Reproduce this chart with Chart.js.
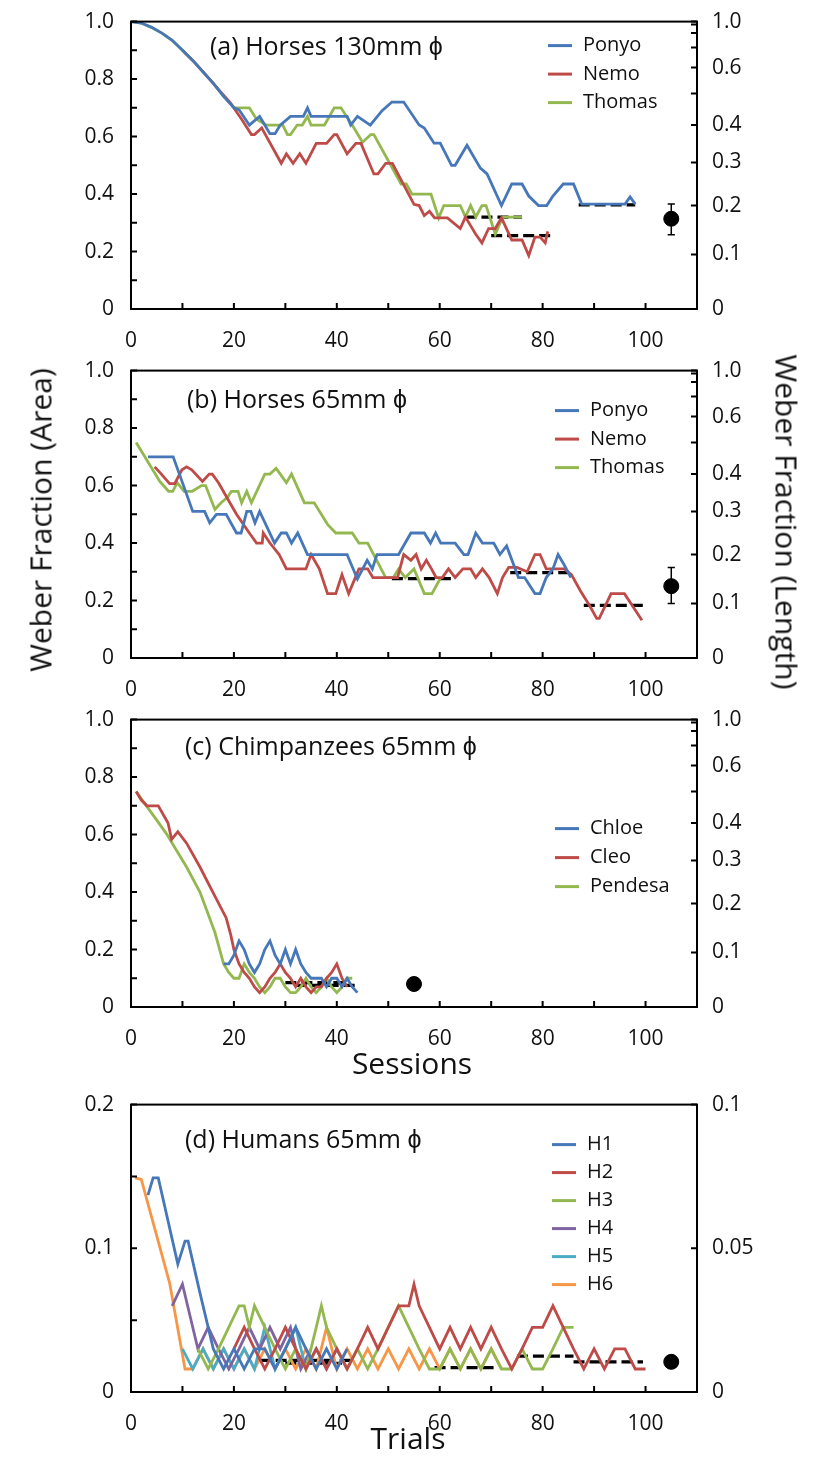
<!DOCTYPE html>
<html lang="en">
<head>
<meta charset="UTF-8"/>
<title>Weber Fraction - Horses, Chimpanzees, Humans</title>
<script src="https://cdn.jsdelivr.net/npm/chart.js@4"></script>
<style>
  body {
    margin: 0;
    background: #fff;
    width: 824px;
    height: 1459px;
    position: relative;
    overflow: hidden;
    font-family: 'Open Sans', sans-serif;
    color: #111;
  }
  canvas { position: absolute; left: 0; }
  .big {
    position: absolute;
    font-size: 30px;
    white-space: nowrap;
    transform: translate(-50%, -50%);
  }
  .rot-left { transform: translate(-50%, -50%) rotate(-90deg); }
  .rot-right { transform: translate(-50%, -50%) rotate(90deg); }
</style>
</head>
<body>

<canvas id="chartA" width="824" height="350" style="top:0px"></canvas>
<canvas id="chartB" width="824" height="350" style="top:349px"></canvas>
<canvas id="chartC" width="824" height="350" style="top:698px"></canvas>
<canvas id="chartD" width="824" height="350" style="top:1083px"></canvas>

<div class="big rot-left" style="left:40px; top:520px">Weber Fraction (Area)</div>
<div class="big rot-right" style="left:787px; top:522px">Weber Fraction (Length)</div>
<div class="big" style="left:412px; top:1062px">Sessions</div>
<div class="big" style="left:408px; top:1437px">Trials</div>

<script>
  // ---- colours
  const BLUE = "#4677b8", RED = "#be4b48", GREEN = "#93b84f";
  const PURPLE = "#8064a2", AQUA = "#4bacc6", ORANGE = "#f79646";

  // ---- panel (a) Horses 130mm
  const aPonyoX = [0,2,4,6,8,10,12,14,16,18,20,21,23,25,27,28,29,31,33.5,34.3,35,42,42.7,44,46.5,48.8,50.7,53,56,57,58.9,60.1,62.3,63,65.3,67.9,69.2,72,74,76,77.3,79.2,80.8,82,84,86,87.6,96,97,98];
  const aPonyoY = [1.0,0.995,0.98,0.96,0.935,0.9,0.865,0.825,0.785,0.74,0.70,0.693,0.64,0.67,0.61,0.61,0.64,0.67,0.67,0.70,0.67,0.67,0.64,0.67,0.64,0.69,0.72,0.72,0.64,0.63,0.577,0.577,0.50,0.50,0.57,0.49,0.47,0.36,0.435,0.435,0.393,0.36,0.36,0.393,0.435,0.435,0.365,0.365,0.39,0.365];
  const aNemoX = [10,12,14,16,17.2,19.2,21.5,23.4,24,25.4,29.2,30.2,31.5,32.8,34,36,38,39.5,40,42,43.7,44.7,47.2,48,49.5,50.8,55,56,57,58,59,61.5,64,65,66,67,68.2,69.5,70.8,72,74,76,77.3,78.5,79.5,80.5,81];
  const aNemoY = [0.9,0.865,0.825,0.785,0.76,0.72,0.66,0.607,0.607,0.63,0.507,0.54,0.507,0.54,0.507,0.576,0.576,0.607,0.607,0.54,0.576,0.576,0.47,0.47,0.507,0.507,0.364,0.36,0.325,0.34,0.317,0.317,0.28,0.32,0.29,0.26,0.23,0.28,0.28,0.317,0.24,0.24,0.186,0.25,0.25,0.23,0.27];
  const aThomasX = [0,2,4,6,8,10,12,14,16,18,20.1,23,24.4,26.3,29.5,30.4,31,32.3,33.3,34.3,35,37.6,39.5,40.8,43,45,46.6,47.2,52.5,53.5,54.6,58.3,59.8,60.8,64,65,66,67,68.2,69,70.8,71.5,72.3,75,76];
  const aThomasY = [1.0,0.995,0.98,0.96,0.935,0.9,0.865,0.825,0.785,0.74,0.70,0.70,0.66,0.64,0.64,0.607,0.607,0.64,0.64,0.67,0.64,0.64,0.70,0.70,0.64,0.58,0.607,0.607,0.435,0.435,0.40,0.40,0.317,0.36,0.36,0.32,0.36,0.32,0.36,0.36,0.26,0.29,0.32,0.32,0.32];
  const aDashFrom = [65, 70, 87];
  const aDashTo = [76, 81.5, 98];
  const aDashY = [0.32, 0.255, 0.362];
  const aDot = [105, 0.314], aErr = [0.258, 0.365];

  // ---- panel (b) Horses 65mm
  const bPonyoX = [3.3,8.2,12,14.3,15.3,16.6,18.5,20.5,21.4,22.5,23.3,24.1,25,27.9,29.2,30.2,31.2,32.4,34.3,42,44,45.9,46.9,47.8,52,54.4,57,58.2,59.2,60.2,63,64.7,65.5,67,68.3,70.5,71.7,73,75.3,76.5,78.5,79.5,80.7,82,83,84,85.5];
  const bPonyoY = [0.70,0.70,0.51,0.51,0.47,0.50,0.50,0.435,0.435,0.51,0.51,0.47,0.51,0.40,0.435,0.435,0.40,0.435,0.36,0.36,0.275,0.34,0.31,0.36,0.36,0.435,0.435,0.40,0.435,0.40,0.40,0.36,0.36,0.435,0.40,0.40,0.36,0.39,0.28,0.28,0.224,0.224,0.28,0.31,0.36,0.33,0.28];
  const bNemoX = [4.6,5.9,7.5,8.5,9.9,10.8,11.8,13.9,15.2,15.8,17,20.5,23,24.4,25.5,25.7,27,28.8,30.2,34,35,36.6,38.2,39.8,41,42.3,44.3,46,47,51.8,53,54.4,55.4,56.4,57.4,58.4,59.3,60.5,61.7,63,64.5,66,67,68.3,69.6,71.2,72.2,73.4,75,77,78.5,79.5,80.7,82.6,84.2,85.6,87.3,89.2,90.5,91,93.3,95.9,97.5,99.3];
  const bNemoY = [0.665,0.64,0.607,0.607,0.655,0.665,0.655,0.614,0.64,0.64,0.61,0.50,0.435,0.40,0.40,0.435,0.40,0.36,0.31,0.31,0.36,0.31,0.224,0.224,0.29,0.224,0.31,0.31,0.28,0.28,0.36,0.34,0.36,0.31,0.34,0.31,0.28,0.28,0.31,0.28,0.31,0.31,0.28,0.31,0.28,0.224,0.28,0.315,0.315,0.30,0.36,0.36,0.31,0.31,0.31,0.29,0.235,0.18,0.138,0.138,0.224,0.224,0.18,0.131];
  const bThomasX = [1,5.6,7.3,8.1,9,10.3,11.9,13.7,14.5,16.3,17.5,18.8,19.5,20.8,21.5,22.5,23.4,26,27,28.2,30.2,31.2,33.7,35.6,38.2,39.8,43,44.3,46,49.5,51,52,53.3,55,57,58.5,60.2];
  const bThomasY = [0.75,0.614,0.58,0.58,0.61,0.58,0.58,0.60,0.60,0.517,0.54,0.56,0.58,0.58,0.54,0.58,0.54,0.64,0.64,0.66,0.61,0.64,0.54,0.54,0.465,0.435,0.435,0.40,0.40,0.28,0.28,0.31,0.28,0.31,0.224,0.224,0.28];
  const bDashFrom = [50.7, 73.7, 88];
  const bDashTo = [62.3, 85.4, 99.5];
  const bDashY = [0.276, 0.297, 0.183];
  const bDot = [105, 0.25], bErr = [0.19, 0.315];

  // ---- panel (c) Chimpanzees 65mm
  const cChloeX = [18,19,20,21,22,23,24,25,26,27,28,29,30,31,32,33,34,35,36,37,38,39,40,41,42,43,44];
  const cChloeY = [0.15,0.15,0.18,0.23,0.2,0.15,0.12,0.15,0.2,0.23,0.18,0.15,0.2,0.15,0.2,0.15,0.12,0.1,0.1,0.1,0.07,0.1,0.1,0.07,0.1,0.07,0.05];
  const cCleoX = [1,2,3.1,5.3,7.2,7.9,9.1,10.8,13.4,15.9,18.5,19.4,20,21,22,23,24,25,26,27,28,29,30,31,32,33,34,35,36,37,38,39,40,41,42];
  const cCleoY = [0.75,0.72,0.70,0.70,0.64,0.583,0.61,0.57,0.487,0.40,0.31,0.25,0.2,0.15,0.12,0.1,0.07,0.05,0.07,0.1,0.12,0.15,0.12,0.1,0.07,0.1,0.07,0.05,0.07,0.07,0.1,0.12,0.15,0.1,0.07];
  const cPendesaX = [1,3,5,7,9,10.8,13.4,16.3,18,19,20,21,22,23,24,25,26,27,28,29,30,31,32,33,34,35,36,37,38,39,40,41,42,43];
  const cPendesaY = [0.75,0.70,0.65,0.60,0.54,0.487,0.40,0.26,0.15,0.12,0.1,0.1,0.15,0.12,0.1,0.07,0.05,0.07,0.1,0.1,0.07,0.05,0.05,0.07,0.1,0.07,0.05,0.07,0.1,0.07,0.05,0.07,0.1,0.1];
  const cDashFrom = [30, 32];
  const cDashTo = [42, 44.3];
  const cDashY = [0.085, 0.075];
  const cDot = [55, 0.08];

  // ---- panel (d) Humans 65mm
  const dH1X = [3.3,4.3,5.3,9.1,10.5,11.1,13.4,15,16,18,20,22,24,26,28,30,32,34,36,38,40,42];
  const dH1Y = [0.137,0.149,0.149,0.089,0.105,0.105,0.069,0.045,0.03,0.016,0.03,0.016,0.03,0.03,0.016,0.03,0.045,0.03,0.016,0.03,0.016,0.03];
  const dH2X = [20,22,24,26,28,30,32,34,36,38,40,42,44,46,48,50,52,54,55,56,58,60,62,64,66,68,70,72,74,76,78,80,82,84,86,88,90,92,94,96,98,100];
  const dH2Y = [0.03,0.045,0.03,0.016,0.03,0.045,0.03,0.016,0.03,0.016,0.03,0.016,0.03,0.045,0.03,0.045,0.06,0.06,0.075,0.06,0.045,0.03,0.045,0.03,0.045,0.03,0.045,0.03,0.016,0.03,0.045,0.045,0.06,0.045,0.03,0.016,0.03,0.016,0.03,0.03,0.016,0.016];
  const dH3X = [13,15,17,19,21,22,23,24,26,28,30,32,34,36,37,38,40,42,44,46,48,50,52,54,56,58,60,62,64,66,68,70,72,74,76,78,80,82,84,86];
  const dH3Y = [0.03,0.016,0.03,0.045,0.06,0.06,0.045,0.06,0.045,0.03,0.016,0.03,0.016,0.045,0.06,0.045,0.03,0.016,0.03,0.016,0.03,0.045,0.06,0.045,0.03,0.016,0.016,0.03,0.016,0.03,0.016,0.03,0.016,0.016,0.03,0.016,0.016,0.03,0.045,0.045];
  const dH4X = [8,10,11,13,15,17,19,21,23,25,27,29,31,33,35];
  const dH4Y = [0.06,0.075,0.06,0.03,0.045,0.03,0.016,0.03,0.045,0.03,0.045,0.03,0.045,0.016,0.03];
  const dH5X = [10,12,14,16,18,20,22,24,26,28,30,32,34,36,38,40,42];
  const dH5Y = [0.03,0.016,0.03,0.016,0.03,0.016,0.03,0.016,0.045,0.016,0.03,0.045,0.016,0.03,0.016,0.03,0.016];
  const dH6X = [0.8,2,7.5,10.5,12,14,16,18,20,22,24,26,28,30,32,34,36,38,40,42,44,46,48,50,52,54,56,58,60,62,64,66,68,70,72];
  const dH6Y = [0.149,0.148,0.076,0.016,0.016,0.03,0.016,0.03,0.016,0.03,0.016,0.03,0.016,0.03,0.016,0.03,0.016,0.045,0.016,0.03,0.016,0.03,0.016,0.03,0.016,0.03,0.016,0.03,0.016,0.03,0.016,0.03,0.016,0.03,0.016];
  const dDashFrom = [25, 30, 59, 75, 86];
  const dDashTo = [43, 41, 71, 86, 99.5];
  const dDashY = [0.022, 0.02, 0.017, 0.025, 0.021];
  const dDot = [105, 0.021];

  // ---- axis ticks
  const sessionTicks = [0,10,20,30,40,50,60,70,80,90,100,110];
  const lengthTicks = [0,0.1,0.2,0.3,0.4,0.5,0.6,0.7,0.8,0.9,1.0];
  const lengthLabels = ["0","0.1","0.2","0.3","0.4","","0.6","","","","1.0"];
  const dLengthPos = [0, 0.1, 0.2];
  const dLengthLabels = ["0", "0.05", "0.1"];

  const FONT = "'Open Sans', sans-serif";
  const lengthToArea = L => 1 - (1 - L) * (1 - L);

  function pts(xs, ys) {
    return xs.map((x, i) => ({ x: x, y: ys[i] }));
  }

  function lineSet(label, xs, ys, color) {
    return { label, data: pts(xs, ys), showLine: true, borderColor: color,
             borderWidth: 2.8, pointRadius: 0, tension: 0 };
  }

  function dashSets(from, to, ys) {
    return from.map((f, i) => ({
      label: "fit", data: [{ x: f, y: ys[i] }, { x: to[i], y: ys[i] }],
      showLine: true, borderColor: "#000", borderWidth: 3.2, borderDash: [11, 5],
      pointRadius: 0
    }));
  }

  function dotSets(dot, err) {
    const sets = [];
    if (err) {
      sets.push({ label: "err", data: [{ x: dot[0], y: err[0] }, { x: dot[0], y: err[1] }],
                  showLine: true, borderColor: "#000", borderWidth: 1.5, pointRadius: 0 });
      err.forEach(e => sets.push({ label: "cap", data: [{ x: dot[0] - 0.7, y: e }, { x: dot[0] + 0.7, y: e }],
                  showLine: true, borderColor: "#000", borderWidth: 1.5, pointRadius: 0 }));
    }
    sets.push({ label: "mean", data: [{ x: dot[0], y: dot[1] }], pointRadius: 7.5,
                pointBackgroundColor: "#000", pointBorderColor: "#000", showLine: false });
    return sets;
  }

  // frame, inward tick marks, panel title and legend
  const decor = {
    id: "decor",
    afterDraw(chart, args, o) {
      const { ctx, chartArea: a, scales } = chart;
      ctx.save();
      ctx.strokeStyle = "#000";
      ctx.lineWidth = 2;
      ctx.strokeRect(a.left, a.top, a.right - a.left, a.bottom - a.top);
      ctx.beginPath();
      scales.x.ticks.forEach(t => {
        const p = scales.x.getPixelForValue(t.value);
        ctx.moveTo(p, a.bottom); ctx.lineTo(p, a.bottom - 6);
      });
      scales.y.ticks.forEach(t => {
        const p = scales.y.getPixelForValue(t.value);
        ctx.moveTo(a.left, p); ctx.lineTo(a.left + 6, p);
      });
      scales.y2.ticks.forEach(t => {
        const p = scales.y2.getPixelForValue(t.value);
        ctx.moveTo(a.right, p); ctx.lineTo(a.right - 6, p);
      });
      ctx.stroke();

      ctx.fillStyle = "#111";
      ctx.textBaseline = "middle";
      ctx.textAlign = "left";
      ctx.font = "25px " + FONT;
      ctx.fillText(o.title, a.left + o.tx, a.top + o.ty);

      ctx.font = "20px " + FONT;
      o.names.forEach((n, i) => {
        const y = a.top + o.ly + i * o.gap;
        ctx.strokeStyle = o.colors[i];
        ctx.lineWidth = 3;
        ctx.beginPath();
        ctx.moveTo(a.left + o.lx, y);
        ctx.lineTo(a.left + o.lx + 24, y);
        ctx.stroke();
        ctx.fillText(n, a.left + o.lx + 35, y);
      });
      ctx.restore();
    }
  };

  function makePanel(id, datasets, yMax, yStep, yLabel, rightPos, rightLabels, decorOpts) {
    new Chart(document.getElementById(id), {
      type: "scatter",
      data: { datasets },
      plugins: [decor],
      options: {
        responsive: false,
        animation: false,
        layout: { padding: { top: 19, left: 81, right: 67, bottom: 1 } },
        plugins: { legend: { display: false }, tooltip: { enabled: false }, decor: decorOpts },
        scales: {
          x: {
            type: "linear", position: "bottom", min: 0, max: 110,
            afterBuildTicks: s => { s.ticks = sessionTicks.map(v => ({ value: v })); },
            ticks: {
              autoSkip: false, maxRotation: 0, padding: 11, color: "#111",
              font: { family: FONT, size: 21 },
              callback: v => (v % 20 === 0 && v <= 100) ? String(v) : ""
            },
            grid: { display: false }, border: { display: false },
            afterFit: s => { s.height = 40; }
          },
          y: {
            type: "linear", position: "left", min: 0, max: yMax,
            ticks: {
              stepSize: yStep, autoSkip: false, padding: 9, color: "#111",
              font: { family: FONT, size: 21 },
              callback: yLabel
            },
            grid: { display: false }, border: { display: false },
            afterFit: s => { s.width = 50; }
          },
          y2: {
            type: "linear", position: "right", min: 0, max: yMax,
            afterBuildTicks: s => { s.ticks = rightPos.map(v => ({ value: v })); },
            ticks: {
              autoSkip: false, padding: 7, color: "#111",
              font: { family: FONT, size: 21 },
              callback: (v, i) => rightLabels[i]
            },
            grid: { display: false }, border: { display: false },
            afterFit: s => { s.width = 60; }
          }
        }
      }
    });
  }

  const areaLabel = v => {
    const k = Math.round(v * 10);
    if (k % 2 !== 0) return "";
    return k === 0 ? "0" : (k / 10).toFixed(1);
  };
  const humanLabel = v => {
    const k = Math.round(v * 100);
    if (k % 10 !== 0) return "";
    return k === 0 ? "0" : (k / 100).toFixed(1);
  };
  const rightAreaPos = lengthTicks.map(lengthToArea);

  makePanel("chartA", [
    lineSet("Ponyo", aPonyoX, aPonyoY, BLUE),
    lineSet("Nemo", aNemoX, aNemoY, RED),
    lineSet("Thomas", aThomasX, aThomasY, GREEN),
    ...dashSets(aDashFrom, aDashTo, aDashY),
    ...dotSets(aDot, aErr)
  ], 1, 0.1, areaLabel, rightAreaPos, lengthLabels,
  { title: "(a) Horses 130mm \u03d5", tx: 79, ty: 26, names: ["Ponyo", "Nemo", "Thomas"],
    colors: [BLUE, RED, GREEN], lx: 417, ly: 24, gap: 28.5 });

  makePanel("chartB", [
    lineSet("Ponyo", bPonyoX, bPonyoY, BLUE),
    lineSet("Nemo", bNemoX, bNemoY, RED),
    lineSet("Thomas", bThomasX, bThomasY, GREEN),
    ...dashSets(bDashFrom, bDashTo, bDashY),
    ...dotSets(bDot, bErr)
  ], 1, 0.1, areaLabel, rightAreaPos, lengthLabels,
  { title: "(b) Horses 65mm \u03d5", tx: 56, ty: 30, names: ["Ponyo", "Nemo", "Thomas"],
    colors: [BLUE, RED, GREEN], lx: 424, ly: 40, gap: 28.5 });

  makePanel("chartC", [
    lineSet("Chloe", cChloeX, cChloeY, BLUE),
    lineSet("Cleo", cCleoX, cCleoY, RED),
    lineSet("Pendesa", cPendesaX, cPendesaY, GREEN),
    ...dashSets(cDashFrom, cDashTo, cDashY),
    ...dotSets(cDot, null)
  ], 1, 0.1, areaLabel, rightAreaPos, lengthLabels,
  { title: "(c) Chimpanzees 65mm \u03d5", tx: 54, ty: 28, names: ["Chloe", "Cleo", "Pendesa"],
    colors: [BLUE, RED, GREEN], lx: 424, ly: 109, gap: 29 });

  makePanel("chartD", [
    lineSet("H1", dH1X, dH1Y, BLUE),
    lineSet("H2", dH2X, dH2Y, RED),
    lineSet("H3", dH3X, dH3Y, GREEN),
    lineSet("H4", dH4X, dH4Y, PURPLE),
    lineSet("H5", dH5X, dH5Y, AQUA),
    lineSet("H6", dH6X, dH6Y, ORANGE),
    ...dashSets(dDashFrom, dDashTo, dDashY),
    ...dotSets(dDot, null)
  ], 0.2, 0.05, humanLabel, dLengthPos, dLengthLabels,
  { title: "(d) Humans 65mm \u03d5", tx: 54, ty: 36, names: ["H1", "H2", "H3", "H4", "H5", "H6"],
    colors: [BLUE, RED, GREEN, PURPLE, AQUA, ORANGE], lx: 421, ly: 40, gap: 28 });
</script>
</body>
</html>
